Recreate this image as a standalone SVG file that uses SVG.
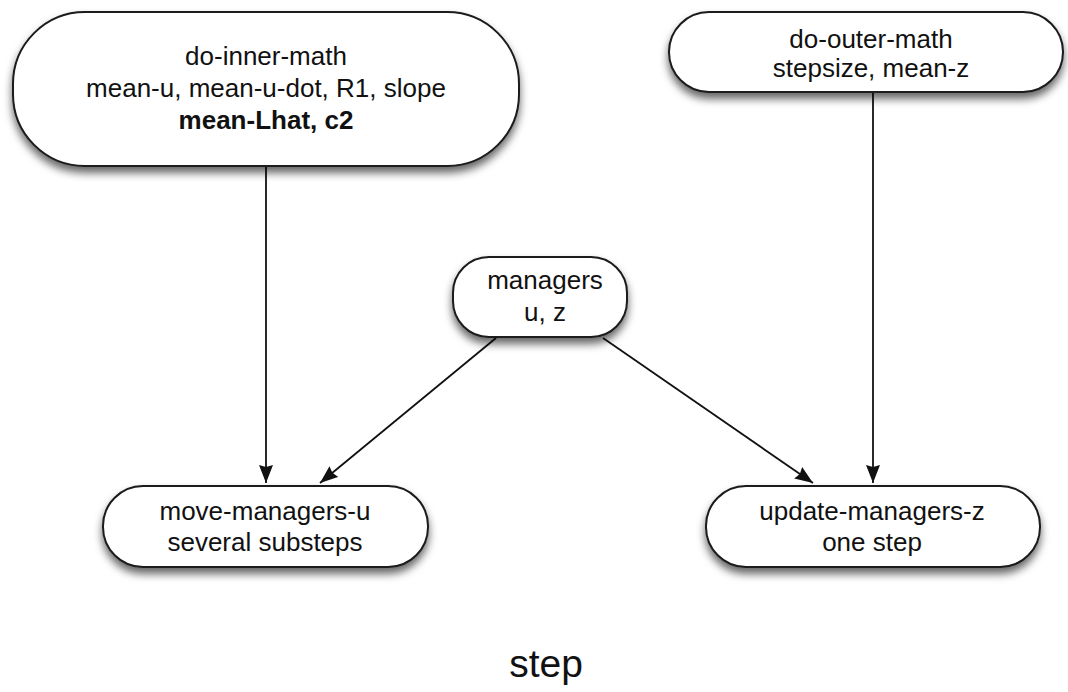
<svg xmlns="http://www.w3.org/2000/svg" width="1068" height="692" viewBox="0 0 1068 692">
  <style>
    .node rect { fill: #ffffff; stroke: #1a1a1a; stroke-width: 2; filter: url(#shadow); }
    .node text { font-family: "Liberation Sans", Arial, sans-serif; font-size: 26px; fill: #111111; text-anchor: middle; }
    .node text.b { font-weight: bold; }
    .edge { stroke: #111111; stroke-width: 1.8; fill: none; marker-end: url(#arrow); }
    .title { font-family: "Liberation Sans", Arial, sans-serif; font-size: 39px; fill: #111111; text-anchor: middle; }
  </style>
  <defs>
    <filter id="shadow" x="-10%" y="-20%" width="120%" height="150%">
      <feDropShadow dx="0" dy="6" stdDeviation="4" flood-color="#000000" flood-opacity="0.6"/>
    </filter>
    <marker id="arrow" viewBox="0 0 18 14" refX="18" refY="7" markerWidth="18" markerHeight="14" markerUnits="userSpaceOnUse" orient="auto">
      <path d="M0,0 L18,7 L0,14 L2,7 Z" fill="#111111"/>
    </marker>
  </defs>

  <rect width="1068" height="692" fill="#ffffff"/>

  <!-- connectors -->
  <g id="connectors">
    <line class="edge" x1="266" y1="167" x2="266" y2="483"/>
    <line class="edge" x1="873" y1="93" x2="873" y2="483"/>
    <line class="edge" x1="496" y1="338" x2="320" y2="483"/>
    <line class="edge" x1="603" y1="338" x2="813" y2="483"/>
  </g>

  <g id="do-inner-math" class="node">
    <rect x="13" y="12" width="506" height="154" rx="72" ry="72"/>
    <text x="266" y="65">do-inner-math</text>
    <text x="266" y="97">mean-u, mean-u-dot, R1, slope</text>
    <text x="266" y="129" class="b">mean-Lhat, c2</text>
  </g>

  <g id="do-outer-math" class="node">
    <rect x="669" y="12" width="394" height="80" rx="40" ry="40"/>
    <text x="871" y="48">do-outer-math</text>
    <text x="871" y="77">stepsize, mean-z</text>
  </g>

  <g id="managers" class="node">
    <rect x="453" y="257" width="174" height="80" rx="36" ry="36"/>
    <text x="545" y="289">managers</text>
    <text x="545" y="321">u, z</text>
  </g>

  <g id="move-managers-u" class="node">
    <rect x="103" y="486" width="325" height="81" rx="40" ry="40"/>
    <text x="265" y="520">move-managers-u</text>
    <text x="265" y="551">several substeps</text>
  </g>

  <g id="update-managers-z" class="node">
    <rect x="706" y="486" width="334" height="81" rx="40" ry="40"/>
    <text x="872" y="520">update-managers-z</text>
    <text x="872" y="551">one step</text>
  </g>

  <text class="title" x="546" y="677">step</text>
</svg>
